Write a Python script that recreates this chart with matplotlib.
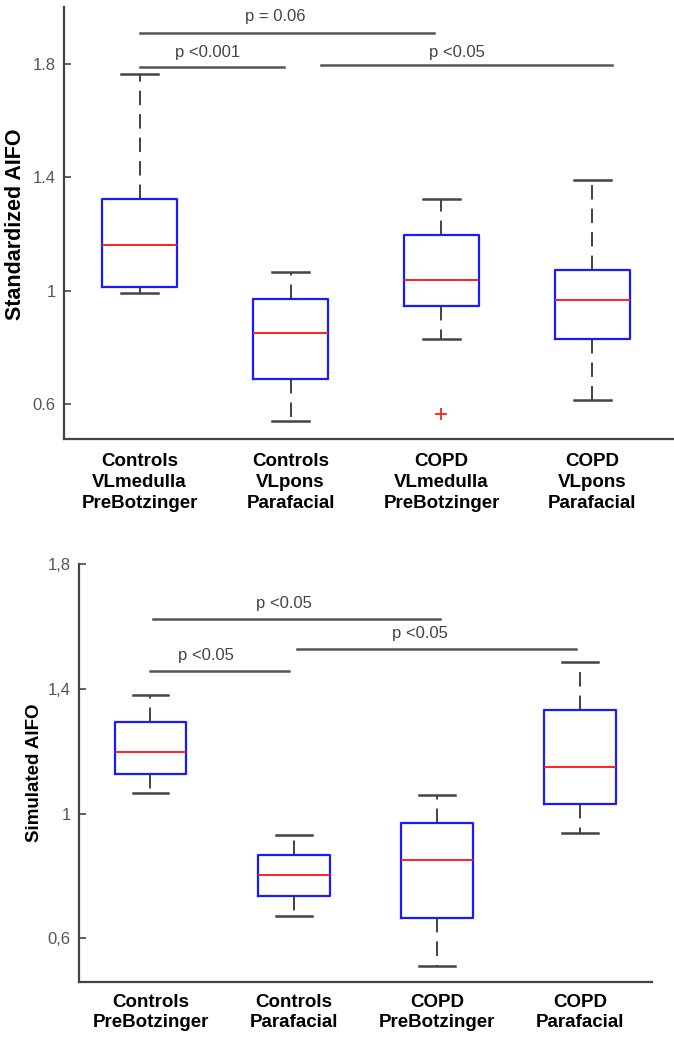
import matplotlib
matplotlib.use('Agg')
import matplotlib.pyplot as plt

# top panel: measured AIFO
top_labels = ['Controls\nVLmedulla\nPreBotzinger', 'Controls\nVLpons\nParafacial',
              'COPD\nVLmedulla\nPreBotzinger', 'COPD\nVLpons\nParafacial']
top_med = [1.160, 0.852, 1.037, 0.966]
top_q1 = [1.012, 0.690, 0.946, 0.829]
top_q3 = [1.324, 0.972, 1.197, 1.073]
top_lo = [0.991, 0.541, 0.829, 0.615]
top_hi = [1.762, 1.065, 1.324, 1.389]
top_fliers = [[], [], [0.564], []]
top_ticks = [0.6, 1.0, 1.4, 1.8]
top_ticklabels = ['0.6', '1', '1.4', '1.8']
# (x start, x end, y, text, text x, text y)
top_sig = [(1.0, 2.95, 1.909, 'p = 0.06', 1.9, 1.966),
           (1.0, 1.96, 1.788, 'p <0.001', 1.45, 1.841),
           (2.2, 4.13, 1.794, 'p <0.05', 3.1, 1.838)]

# bottom panel: simulated AIFO
bot_labels = ['Controls\nPreBotzinger', 'Controls\nParafacial',
              'COPD\nPreBotzinger', 'COPD\nParafacial']
bot_med = [1.199, 0.804, 0.850, 1.151]
bot_q1 = [1.127, 0.735, 0.665, 1.031]
bot_q3 = [1.294, 0.869, 0.970, 1.333]
bot_lo = [1.068, 0.672, 0.510, 0.939]
bot_hi = [1.381, 0.931, 1.059, 1.488]
bot_fliers = [[], [], [], []]
bot_ticks = [0.6, 1.0, 1.4, 1.8]
bot_ticklabels = ['0,6', '1', '1,4', '1,8']
bot_sig = [(1.02, 3.02, 1.625, 'p <0.05', 1.93, 1.675),
           (2.02, 3.97, 1.528, 'p <0.05', 2.88, 1.579),
           (1.0, 1.97, 1.458, 'p <0.05', 1.39, 1.509)]

NARROW = ['Liberation Sans Narrow', 'Liberation Sans', 'DejaVu Sans']


def panel(ax, med, q1, q3, lo, hi, fliers, labels, ticks, ticklabels, sig,
          ylabel, ylabel_size, ylim, xlim, label_pad, linesp):
    stats = []
    for i in range(len(med)):
        stats.append(dict(med=med[i], q1=q1[i], q3=q3[i], whislo=lo[i],
                          whishi=hi[i], fliers=fliers[i]))
    ax.bxp(stats, positions=[1, 2, 3, 4], widths=0.5,
           boxprops=dict(color='#1a1aff', lw=1.6),
           medianprops=dict(color='#ff2020', lw=1.4),
           whiskerprops=dict(color='#333333', lw=1.3, ls=(0, (8, 5))),
           capprops=dict(color='#444444', lw=1.8),
           capwidths=0.25,
           flierprops=dict(marker='+', markeredgecolor='#ff2020',
                           markersize=9, markeredgewidth=1.3))
    for x1, x2, y, txt, tx, ty in sig:
        ax.plot([x1, x2], [y, y], color='#555555', lw=1.8)
        ax.text(tx, ty, txt, ha='center', va='center', fontsize=12,
                color='#444444', family=NARROW)
    ax.set_ylim(*ylim)
    ax.set_xlim(*xlim)
    ax.set_yticks(ticks)
    ax.set_yticklabels(ticklabels, family=NARROW, fontsize=12, color='#555555')
    ax.set_xticks([1, 2, 3, 4])
    ax.set_xticklabels(labels, family=NARROW, fontsize=13.5, fontweight='bold',
                       linespacing=linesp)
    ax.tick_params(axis='y', direction='in', length=5, width=1.2, color='#444444', pad=6)
    ax.tick_params(axis='x', length=0, pad=label_pad)
    for s in ('top', 'right'):
        ax.spines[s].set_visible(False)
    for s in ('left', 'bottom'):
        ax.spines[s].set_color('#444444')
        ax.spines[s].set_linewidth(1.6)
    ax.set_ylabel(ylabel, fontsize=ylabel_size, fontweight='bold',
                  family=['Liberation Sans', 'DejaVu Sans'])


fig = plt.figure(figsize=(6.74, 10.39), dpi=100, facecolor='w')

ax1 = fig.add_axes([0.095, 0.5775, 0.905, 0.4158])
panel(ax1, top_med, top_q1, top_q3, top_lo, top_hi, top_fliers, top_labels,
      top_ticks, top_ticklabels, top_sig, 'Standardized AIFO', 15.5,
      (0.477, 2.0), (0.5, 4.54), 10, 1.3)
ax1.yaxis.set_label_coords(-0.062, 0.498)

ax2 = fig.add_axes([0.117, 0.0551, 0.850, 0.4018])
panel(ax2, bot_med, bot_q1, bot_q3, bot_lo, bot_hi, bot_fliers, bot_labels,
      bot_ticks, bot_ticklabels, bot_sig, 'Simulated AIFO', 13.5,
      (0.461, 1.8), (0.5, 4.5), 9, 1.2)
ax2.yaxis.set_label_coords(-0.063, 0.5)

fig.savefig('out.png', dpi=100)
